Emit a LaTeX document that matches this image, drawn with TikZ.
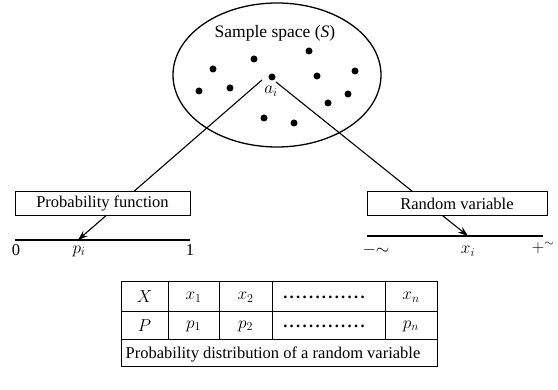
\documentclass[tikz,border=0pt]{standalone}
\usepackage{fontspec}
\setmainfont{Liberation Serif}
\usetikzlibrary{shapes.geometric,arrows.meta}
\begin{document}
\begin{tikzpicture}[x=1pt,y=-1pt,
  txt/.style={font=\fontsize{16.5}{19}\selectfont, inner sep=0pt},
  dot/.style={circle,fill=black,inner sep=0pt,minimum size=7pt},
  labelbox/.style={draw,line width=1pt,fill=white,minimum height=24pt,font=\fontsize{16.5}{19}\selectfont,inner sep=0pt},
  axis/.style={line width=1.4pt},
  arr/.style={line width=1.1pt,-{Stealth[length=10pt,width=7pt]}},
  grid/.style={line width=1pt},
  leader/.style={txt,font=\fontsize{16.5}{19}\selectfont\bfseries\addfontfeature{LetterSpace=14}}]
\useasboundingbox (0,0) rectangle (558,390);
% sample space
\node[ellipse,draw,line width=1.3pt,minimum width=208pt,minimum height=144pt,inner sep=0pt] (S) at (277,75) {};
\node[txt,font=\fontsize{17.5}{21}\selectfont] (Slab) at (275,33) {Sample space (\textit{S})};
\node[dot] (d1) at (254,59) {};
\node[dot] (d2) at (309,51) {};
\node[dot] (d3) at (213,69) {};
\node[dot] (d4) at (355,71) {};
\node[dot] (ai) at (272,77) {};
\node[dot] (d6) at (317,76) {};
\node[dot] (d7) at (199,91) {};
\node[dot] (d8) at (230,88) {};
\node[dot] (d9) at (348,94) {};
\node[dot] (d10) at (328,103) {};
\node[dot] (d11) at (264,118) {};
\node[dot] (d12) at (294,123) {};
\node[txt] (ailab) at (271,91) {$a_i$};
% axes
\coordinate (pi) at (78,240);
\coordinate (xi) at (468,236);
\coordinate (l0) at (15,240);
\coordinate (l1) at (190,240);
\coordinate (r0) at (367,236);
\coordinate (r1) at (543,236);
\draw[axis] (l0) -- (l1);
\draw[axis] (r0) -- (r1);
\draw[arr] (262,80) -- (pi);
\draw[arr] (276,82) -- (xi);
% boxes
\node[labelbox,minimum width=175pt] (pf) at (102.5,203.5) {Probability function};
\node[labelbox,minimum width=180pt] (rv) at (457,203.5) {Random variable};
% axis labels
\node[txt] (z0) at (16,250) {0};
\node[txt] (plab) at (79,251) {$p_i$};
\node[txt] (o1) at (190,250) {1};
\node[txt] (mi) at (376,250) {$-{\sim}$};
\node[txt] (xlab) at (468,251) {$x_i$};
\node[txt] (pl) at (543,248) {$+^{\sim}$};
% table
\draw[grid] (121,282) rectangle (437,367);
\draw[grid] (121,312) -- (437,312);
\draw[grid] (121,340) -- (437,340);
\foreach \x in {168,219,272,385} \draw[grid] (\x,282) -- (\x,340);
\node[txt] (tX) at (144.5,297) {$X$};
\node[txt] (tx1) at (193.5,297) {$x_1$};
\node[txt] (tx2) at (245.5,297) {$x_2$};
\node[leader] (td1) at (324,297) {.............};
\node[txt] (txn) at (411,297) {$x_n$};
\node[txt] (tP) at (144.5,326) {$P$};
\node[txt] (tp1) at (193.5,326) {$p_1$};
\node[txt] (tp2) at (245.5,326) {$p_2$};
\node[leader] (td2) at (324,326) {.............};
\node[txt] (tpn) at (411,326) {$p_n$};
\node[txt] (cap) at (273,354) {Probability distribution of a random variable};
\end{tikzpicture}
\end{document}
